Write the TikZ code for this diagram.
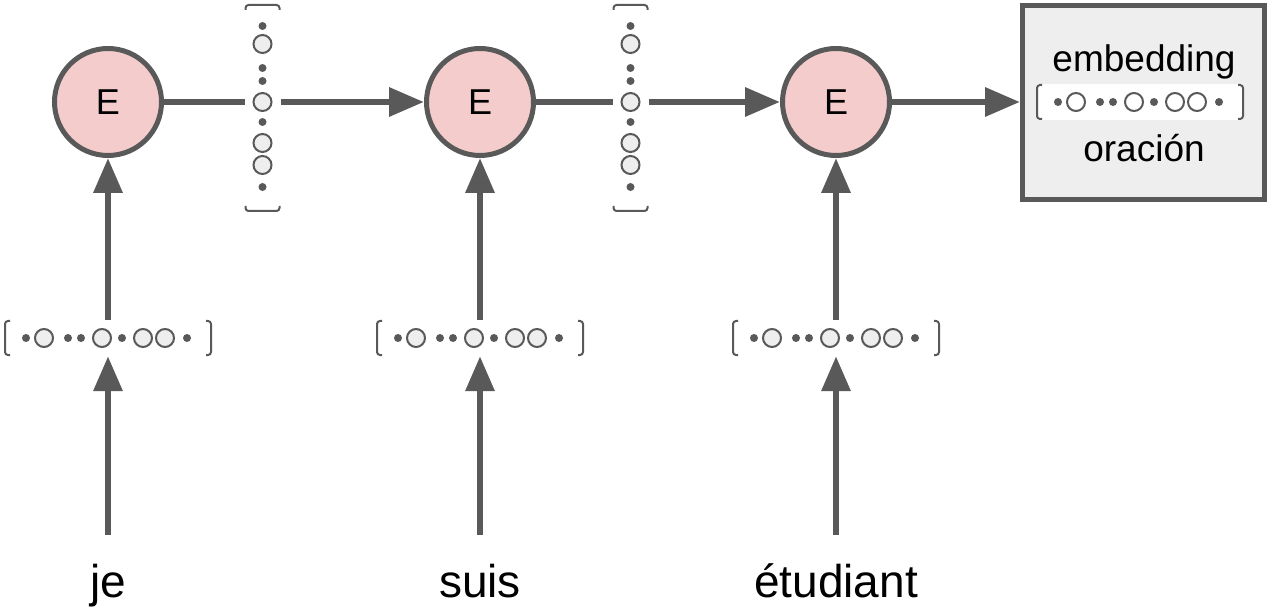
\documentclass[tikz,border=0pt]{standalone}
\usepackage{fontspec}
\setmainfont{Liberation Sans}
\usetikzlibrary{arrows.meta}
\definecolor{dk}{HTML}{595959}
\definecolor{pk}{HTML}{F4CCCC}
\definecolor{lg}{HTML}{EEEEEE}
\tikzset{
  enc/.style={circle, draw=dk, line width=5pt, fill=pk, minimum size=107pt, inner sep=0pt, font=\fontsize{36}{42}\selectfont},
  sentbox/.style={rectangle, draw=dk, line width=5pt, fill=lg, minimum width=242pt, minimum height=194pt, inner sep=0pt},
  conn/.style={draw=dk, line width=6.5pt, -{Triangle[length=35pt,width=28pt]}},
  word/.style={font=\fontsize{46}{54}\selectfont, anchor=base, inner sep=0pt},
  boxtext/.style={font=\fontsize{37}{44}\selectfont, anchor=base, inner sep=0pt},
  brk/.style={draw=dk, line width=2pt, rounded corners=3pt},
  bead/.style={draw=dk, line width=2pt, fill=lg},
  vecbg/.style={fill=white, inner sep=0pt},
  hvec/.pic={
    \node[vecbg, minimum width=206pt, minimum height=36pt] (-box) at (103,0) {};
    \draw[brk] (5,-17) -- (0,-17) -- (0,17) -- (5,17);
    \draw[brk] (201,-17) -- (206,-17) -- (206,17) -- (201,17);
    \foreach \p in {21,63,76,117,182} \fill[dk] (\p,0) circle[radius=4pt];
    \foreach \p in {39,97,138,160} \draw[bead] (\p,0) circle[radius=9pt];
  },
  vvec/.pic={
    \node[vecbg, minimum width=36pt, minimum height=206pt] (-box) at (0,103) {};
    \draw[brk] (-17,5) -- (-17,0) -- (17,0) -- (17,5);
    \draw[brk] (-17,201) -- (-17,206) -- (17,206) -- (17,201);
    \foreach \p in {21,63,76,117,182} \fill[dk] (0,\p) circle[radius=4pt];
    \foreach \p in {39,97,138,160} \draw[bead] (0,\p) circle[radius=9pt];
  },
}
\begin{document}
\begin{tikzpicture}[x=1pt, y=-1pt]
\useasboundingbox (0,0) rectangle (1268,609);
% encoders
\node[enc] (e1) at (108,102) {E};
\node[enc] (e2) at (480,102) {E};
\node[enc] (e3) at (836,102) {E};
% sentence embedding box
\node[sentbox] (sent) at (1143.5,102.5) {};
\node[boxtext] (t1) at (1144,72) {embedding};
\node[boxtext] (t2) at (1144,162) {oración};
% words
\node[word] (w1) at (108,597) {je};
\node[word] (w2) at (480,597) {suis};
\node[word] (w3) at (836,597) {étudiant};
\coordinate (s1) at (108,535);
\coordinate (s2) at (480,535);
\coordinate (s3) at (836,535);
% horizontal connectors
\draw[conn] (e1.east) -- (e2.west);
\draw[conn] (e2.east) -- (e3.west);
\draw[conn] (e3.east) -- (e3.east -| sent.west);
% vectors
\pic (v1) at (262.5,5) {vvec};
\pic (v2) at (630.5,5) {vvec};
\pic (h1) at (5,338) {hvec};
\pic (h2) at (377,338) {hvec};
\pic (h3) at (733,338) {hvec};
\pic[bead/.append style={fill=white}] (hs) at (1037,102) {hvec};
% vertical connectors
\draw[conn] (s1) -- (h1-box.south);
\draw[conn] (s2) -- (h2-box.south);
\draw[conn] (s3) -- (h3-box.south);
\draw[conn] (h1-box.north) -- (e1.south);
\draw[conn] (h2-box.north) -- (e2.south);
\draw[conn] (h3-box.north) -- (e3.south);
\end{tikzpicture}
\end{document}
